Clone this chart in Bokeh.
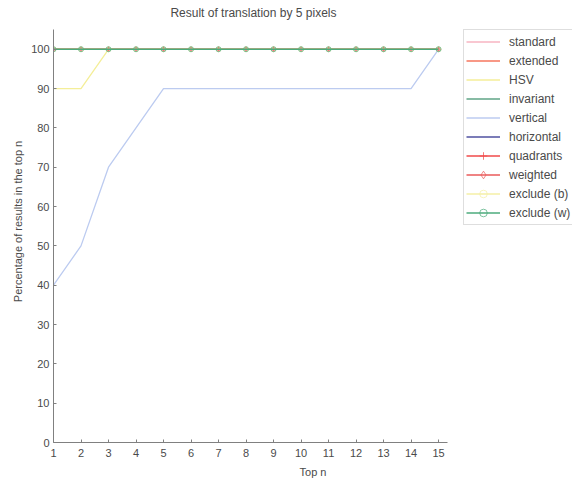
from bokeh.plotting import figure
from bokeh.models import Legend, LegendItem, FixedTicker, Range1d, Label
from bokeh.embed import file_html
from bokeh.resources import INLINE

top_n = list(range(1, 16))
standard = [100] * 15
extended = [100] * 15
hsv = [90, 90] + [100] * 13
invariant = [100] * 15
vertical = [40, 50, 70, 80, 90, 90, 90, 90, 90, 90, 90, 90, 90, 90, 100]
horizontal = [100] * 15
quadrants = [100] * 15
weighted = [100] * 15
exclude_b = [100] * 15
exclude_w = [100] * 15

y_ticks = list(range(0, 101, 10))
title_text = "Result of translation by 5 pixels"

FONT = "Liberation Sans"
TXT = "#4a4a4a"

p = figure(frame_width=519, frame_height=442, output_backend="svg",
           toolbar_location=None, title=None,
           x_range=Range1d(1, 19.87), y_range=Range1d(0, 112.4),
           min_border_left=53, min_border_right=0, min_border_top=0,
           min_border_bottom=41)
p.outline_line_color = None
p.xgrid.visible = False
p.ygrid.visible = False

# title drawn above the axes area (axis line stops at 105)
p.add_layout(Label(x=5.25, y=109.3, text=title_text, text_font=FONT,
                   text_font_size="12px", text_color=TXT,
                   text_align="left", text_baseline="middle"))

for ax in (p.xaxis[0], p.yaxis[0]):
    ax.axis_line_color = "#808080"
    ax.major_tick_line_color = "#808080"
    ax.major_tick_in = 3
    ax.major_tick_out = 0
    ax.minor_tick_line_color = None
    ax.major_label_text_font = FONT
    ax.major_label_text_font_size = "11px"
    ax.major_label_text_color = TXT
    ax.axis_label_text_font = FONT
    ax.axis_label_text_font_size = "11px"
    ax.axis_label_text_font_style = "normal"
    ax.axis_label_text_color = TXT

p.xaxis.ticker = FixedTicker(ticks=top_n)
p.yaxis.ticker = FixedTicker(ticks=y_ticks)
p.xaxis.bounds = (1, 15.33)
p.yaxis.bounds = (0, 105)
p.xaxis.axis_label = "Top n"
p.yaxis.axis_label = "Percentage of results in the top n"
p.xaxis.major_label_standoff = 6
p.yaxis.major_label_standoff = 4
p.xaxis.axis_label_standoff = 6
p.yaxis.axis_label_standoff = 4

series = [
    ("standard", standard, "#f7b4c2", None),
    ("extended", extended, "#f6765e", None),
    ("HSV", hsv, "#f4ee98", None),
    ("invariant", invariant, "#5fa486", None),
    ("vertical", vertical, "#bccbf0", None),
    ("horizontal", horizontal, "#4f50a0", None),
    ("quadrants", quadrants, "#f04a4a", "cross"),
    ("weighted", weighted, "#ea5a5a", "diamond"),
    ("exclude (b)", exclude_b, "#f5efa6", "circle"),
    ("exclude (w)", exclude_w, "#4cab7c", "circle"),
]

items = []
for name, ys, col, mk in series:
    rs = [p.line(top_n, ys, line_color=col, line_width=1.3)]
    if mk is not None:
        rs.append(p.scatter(top_n, ys, marker=mk, size=5, line_color=col,
                            fill_color=None, line_width=0.9, line_alpha=0.8))
    items.append(LegendItem(label=name, renderers=rs))

legend = Legend(items=items, location=(410, 217))
legend.label_text_font = FONT
legend.label_text_font_size = "12px"
legend.label_text_color = TXT
legend.glyph_width = 34
legend.glyph_height = 19
legend.label_height = 19
legend.label_width = 60
legend.spacing = 0
legend.padding = 2
legend.margin = 0
legend.label_standoff = 9
legend.border_line_color = "#bdbdbd"
legend.background_fill_color = "white"
legend.background_fill_alpha = 1
p.add_layout(legend, "center")

open("out.html", "w").write(file_html(p, INLINE))
